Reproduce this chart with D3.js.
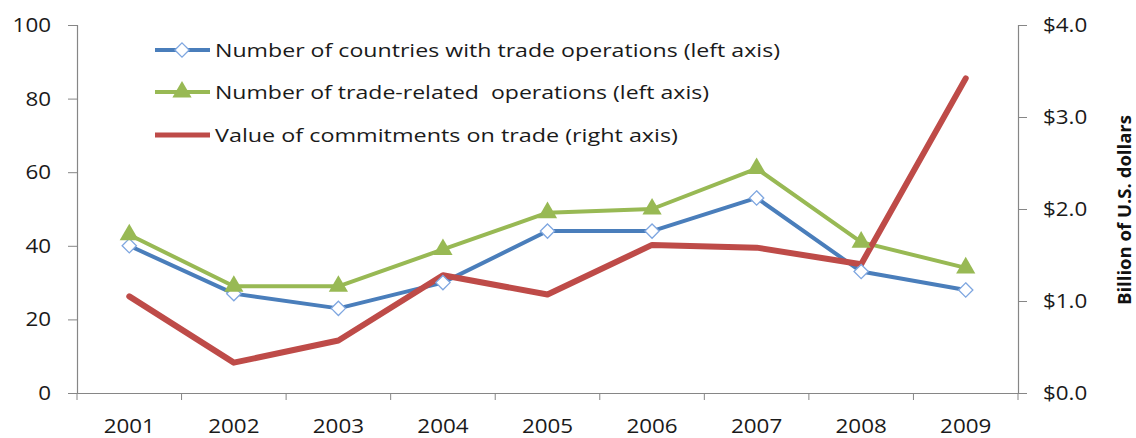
<!DOCTYPE html>
<html><head><meta charset="utf-8">
<script src="https://cdn.jsdelivr.net/npm/d3@7"></script>
<style>body{margin:0;background:#fff}svg{display:block}text{font-family:"Open Sans",sans-serif}</style>
</head><body>
<svg id="c" width="1136" height="438"></svg>
<script>
const years = ["2001","2002","2003","2004","2005","2006","2007","2008","2009"];
const countries = [40,27,23,30,44,44,53,33,28];
const operations = [43,29,29,39,49,50,61,41,34];
const commitments = [1.05,0.33,0.57,1.28,1.07,1.61,1.58,1.40,3.42];
const leftTicks = [0,20,40,60,80,100];
const rightTicks = [0,1,2,3,4];
const legendLabels = ["Number of countries with trade operations (left axis)","Number of trade-related  operations (left axis)","Value of commitments on trade (right axis)"];
const rightTitle = "Billion of U.S. dollars";

const svg = d3.select("#c");
const L = 77, R = 1018, T = 25, B = 393;
const x = d3.scaleBand().domain(years).range([L, R]);
const yL = d3.scaleLinear().domain([0,100]).range([B, T]);
const yR = d3.scaleLinear().domain([0,4]).range([B, T]);
const axisColor = "#868686";

const gl = svg.append("g").attr("transform",`translate(${L},0)`)
  .call(d3.axisLeft(yL).tickValues(leftTicks).tickSize(9).tickPadding(17));
const gr = svg.append("g").attr("transform",`translate(${R},0)`)
  .call(d3.axisRight(yR).tickValues(rightTicks).tickSize(9).tickPadding(16).tickFormat(d=>"$"+d3.format(".1f")(d)));
const gb = svg.append("g").attr("transform",`translate(0,${B})`)
  .call(d3.axisBottom(x).tickSize(0).tickPadding(26));
svg.append("g").selectAll("line").data(years.slice(1).map(d=>x(d)).concat([L,R]))
  .join("line").attr("x1",d=>d).attr("x2",d=>d).attr("y1",B).attr("y2",B+7)
  .attr("stroke",axisColor).attr("stroke-width",1);
[gl,gr,gb].forEach(g=>{
  g.selectAll("path.domain").attr("stroke",axisColor).attr("stroke-width",1.2);
  g.selectAll(".tick line").attr("stroke",axisColor);
  g.selectAll("text").attr("fill","#1a1a1a").style("font-size","20px").style("font-family","'Open Sans',sans-serif");
});
gb.select("path.domain").attr("d",`M${L},0.5H${R}`);
[gl,gr,gb].forEach(g=>g.selectAll("text").each(function(){
  const w = this.getComputedTextLength();
  d3.select(this).attr("textLength", w*1.12).attr("lengthAdjust","spacingAndGlyphs");
}));

svg.append("text").attr("transform","translate(1131,210) rotate(-90)")
  .attr("text-anchor","middle").style("font-size","17px").style("font-weight","bold").attr("fill","#111")
  .attr("textLength",190).attr("lengthAdjust","spacingAndGlyphs").text(rightTitle);

const cx = d => x(d) + x.bandwidth()/2;
const blue = "#4a7ebb", green = "#98b954", red = "#be4b48";
const lineL = d3.line().x((d,i)=>cx(years[i])).y(d=>yL(d));
const lineR = d3.line().x((d,i)=>cx(years[i])).y(d=>yR(d));

svg.append("path").datum(countries).attr("d",lineL).attr("fill","none").attr("stroke",blue).attr("stroke-width",4).attr("stroke-linejoin","round");
svg.append("path").datum(operations).attr("d",lineL).attr("fill","none").attr("stroke",green).attr("stroke-width",4).attr("stroke-linejoin","round");
svg.append("path").datum(commitments).attr("d",lineR).attr("fill","none").attr("stroke",red).attr("stroke-width",6).attr("stroke-linejoin","round").attr("stroke-linecap","round");

const diamond = d3.symbol().type(d3.symbolDiamond2).size(130);
const tri = d3.symbol().type(d3.symbolTriangle).size(160);
svg.append("g").selectAll("path").data(countries).join("path")
  .attr("transform",(d,i)=>`translate(${cx(years[i])},${yL(d)})`).attr("d",diamond)
  .attr("fill","#fff").attr("stroke","#7ea6e0").attr("stroke-width",1.3);
svg.append("g").selectAll("path").data(operations).join("path")
  .attr("transform",(d,i)=>`translate(${cx(years[i])},${yL(d)})`).attr("d",tri)
  .attr("fill",green);

const lg = svg.append("g");
const rows = [50,92,135];
const colors = [blue, green, red];
const widths = [565, 494, 463];
legendLabels.forEach((t,i)=>{
  lg.append("line").attr("x1",155).attr("x2",210).attr("y1",rows[i]).attr("y2",rows[i])
    .attr("stroke",colors[i]).attr("stroke-width",i==2?5:4);
  if(i==0) lg.append("path").attr("transform",`translate(182,${rows[i]})`).attr("d",diamond).attr("fill","#fff").attr("stroke","#7ea6e0").attr("stroke-width",1.3);
  if(i==1) lg.append("path").attr("transform",`translate(182,${rows[i]})`).attr("d",tri).attr("fill",green);
  lg.append("text").attr("x",215).attr("y",rows[i]).attr("dy","0.36em").style("font-size","19px").attr("fill","#1a1a1a")
    .attr("xml:space","preserve").style("white-space","pre")
    .attr("textLength",widths[i]).attr("lengthAdjust","spacingAndGlyphs").text(t);
});
</script>
</body></html>
